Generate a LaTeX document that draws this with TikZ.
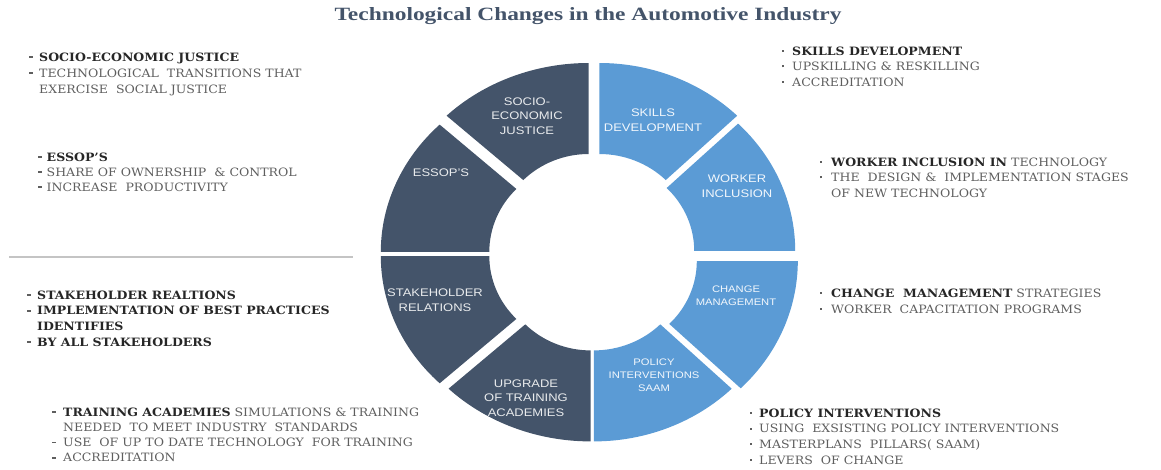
\documentclass[tikz,border=0pt]{standalone}
\usepackage{fontspec}
\setmainfont[FakeStretch=1.09]{DejaVu Serif}
\newfontfamily\labelfont[FakeStretch=1.18]{Liberation Sans}
\newfontfamily\titlefont{Liberation Serif}
\usetikzlibrary{calc}

\definecolor{slate}{HTML}{44546A}
\definecolor{skyblue}{HTML}{5B9BD5}
\definecolor{bodygray}{HTML}{5E5E5E}
\definecolor{bodydark}{HTML}{262626}
\definecolor{rulegray}{HTML}{C4C4C4}

% ring geometry (pt): outer / inner radii for the left and right halves
\def\Ry{180}\def\ry{89}
\def\RxL{201}\def\rxL{92.5}
\def\RxR{195}\def\rxR{94}
\def\cx{591}\def\cy{252.2}

% one ring sector: start angle, end angle, offset (dx,dy), outer x radius, inner x radius, fill
\newcommand\ringsector[6]{%
  \begin{scope}[shift={($(\cx,\cy)+#3$)}, yscale=-1]
    \fill[#6] ({#4*cos(#1)},{\Ry*sin(#1)})
      arc[start angle=#1, end angle=#2, x radius=#4, y radius=\Ry]
      -- ({#5*cos(#2)},{\ry*sin(#2)})
      arc[start angle=#2, end angle=#1, x radius=#5, y radius=\ry] -- cycle;
  \end{scope}}

% bullet lists
\newlength\bind
\newcommand\dashbullet{\textcolor{bodygray}{\rule[3.2pt]{3.6pt}{1.8pt}}}
\newcommand\dotbullet{\textcolor{bodygray}{\rule[3.2pt]{2pt}{2pt}}}
\newcommand\bitem[2]{\hbox{\makebox[\bind][l]{#1}#2}}
\newcommand\bcont[1]{\hbox{\hspace*{\bind}#1}}
\newcommand\hl[1]{{\bfseries\color{bodydark}#1}}
\newcommand\notes[3]{\setlength\bind{#1pt}\vtop{\baselineskip=#2pt\lineskiplimit=-20pt #3}}

\tikzset{
  notesblock/.style={anchor=base west, inner sep=0pt, text=bodygray,
    font=\fontsize{11.5}{15}\selectfont},
  seclabel/.style={align=center, inner sep=0pt,
    font=\labelfont\fontsize{11}{14.5}\selectfont},
  darklabel/.style={seclabel, text=white!88!slate},
  lightlabel/.style={seclabel, text=white!92!skyblue},
  smalllabel/.style={font=\labelfont\fontsize{9.5}{12.8}\selectfont},
}

\begin{document}
\begin{tikzpicture}[x=1pt, y=-1pt]
\path[use as bounding box] (0,0) rectangle (1161,469);

% title
\node[inner sep=0pt, text=slate] (title) at (588,16)
  {\resizebox{507pt}{13pt}{\titlefont\bfseries Technological Changes in the Automotive Industry}};

% ring of eight sectors
\ringsector{45}{90}{(8.3,-9.2)}{\RxR}{\rxR}{skyblue}
\ringsector{0}{45}{(9.2,-1.3)}{\RxR}{\rxR}{skyblue}
\ringsector{-45}{0}{(11.8,8.8)}{\RxR}{\rxR}{skyblue}
\ringsector{-90}{-45}{(2.8,9.2)}{\RxR}{\rxR}{skyblue}
\ringsector{-135}{-90}{(-0.3,9.2)}{\RxL}{\rxL}{slate}
\ringsector{180}{225}{(-9.2,3.8)}{\RxL}{\rxL}{slate}
\ringsector{135}{180}{(-9.2,-0.3)}{\RxL}{\rxL}{slate}
\ringsector{90}{135}{(-2.3,-9.2)}{\RxL}{\rxL}{slate}

% sector labels
\node[darklabel]  (lbl-socio)   at (527,116) {SOCIO-\\ECONOMIC\\JUSTICE};
\node[lightlabel] (lbl-skills)  at (653,120) {SKILLS\\DEVELOPMENT};
\node[lightlabel] (lbl-worker)  at (737,186) {WORKER\\INCLUSION};
\node[lightlabel, smalllabel] (lbl-change) at (736,296) {CHANGE\\MANAGEMENT};
\node[lightlabel, smalllabel] (lbl-policy) at (654,375) {POLICY\\INTERVENTIONS\\SAAM};
\node[darklabel]  (lbl-upgrade) at (526,398) {UPGRADE\\OF TRAINING\\ACADEMIES};
\node[darklabel]  (lbl-stake)   at (435,300) {STAKEHOLDER\\RELATIONS};
\node[darklabel]  (lbl-essop)   at (441,173) {ESSOP’S};

% separator on the left
\coordinate (sep-a) at (9,257);
\coordinate (sep-b) at (353,257);
\draw[rulegray, line width=1.3pt] (sep-a) -- (sep-b);

% notes, left column
\node[notesblock] (notes-socio) at (29,61) {\notes{10}{16}{%
  \bitem\dashbullet{\hl{SOCIO-ECONOMIC JUSTICE}}
  \bitem\dashbullet{TECHNOLOGICAL~ TRANSITIONS THAT}
  \bcont{EXERCISE~ SOCIAL JUSTICE}}};

\node[notesblock] (notes-essop) at (38,161) {\notes{8.5}{15}{%
  \bitem\dashbullet{\hl{ESSOP’S}}
  \bitem\dashbullet{SHARE OF OWNERSHIP ~\& CONTROL}
  \bitem\dashbullet{INCREASE~ PRODUCTIVITY}}};

\node[notesblock] (notes-stake) at (27,299) {\notes{10}{15.7}{%
  \bitem\dashbullet{\hl{STAKEHOLDER REALTIONS}}
  \bitem\dashbullet{\hl{IMPLEMENTATION OF BEST PRACTICES}}
  \bcont{\hl{IDENTIFIES}}
  \bitem\dashbullet{\hl{BY ALL STAKEHOLDERS}}}};

\node[notesblock] (notes-training) at (52,416) {\notes{11}{15.3}{%
  \bitem\dashbullet{\hl{TRAINING ACADEMIES} SIMULATIONS \& TRAINING}
  \bcont{NEEDED~ TO MEET INDUSTRY~ STANDARDS}
  \bitem\dashbullet{USE~ OF UP TO DATE TECHNOLOGY~ FOR TRAINING}
  \bitem\dashbullet{ACCREDITATION}}};

% notes, right column
\node[notesblock] (notes-skills) at (782,55) {\notes{10}{15.5}{%
  \bitem\dotbullet{\hl{SKILLS DEVELOPMENT}}
  \bitem\dotbullet{UPSKILLING \& RESKILLING}
  \bitem\dotbullet{ACCREDITATION}}};

\node[notesblock] (notes-worker) at (820,166) {\notes{11}{15.5}{%
  \bitem\dotbullet{\hl{WORKER INCLUSION IN} TECHNOLOGY}
  \bitem\dotbullet{THE~ DESIGN \&~ IMPLEMENTATION STAGES}
  \bcont{OF NEW TECHNOLOGY}}};

\node[notesblock] (notes-change) at (820,297) {\notes{11}{16}{%
  \bitem\dotbullet{\hl{CHANGE~ MANAGEMENT} STRATEGIES}
  \bitem\dotbullet{WORKER~ CAPACITATION PROGRAMS}}};

\node[notesblock] (notes-policy) at (750,417) {\notes{9}{15.7}{%
  \bitem\dotbullet{\hl{POLICY INTERVENTIONS}}
  \bitem\dotbullet{USING~ EXSISTING POLICY INTERVENTIONS}
  \bitem\dotbullet{MASTERPLANS~ PILLARS( SAAM)}
  \bitem\dotbullet{LEVERS~ OF CHANGE}}};

\end{tikzpicture}
\end{document}
